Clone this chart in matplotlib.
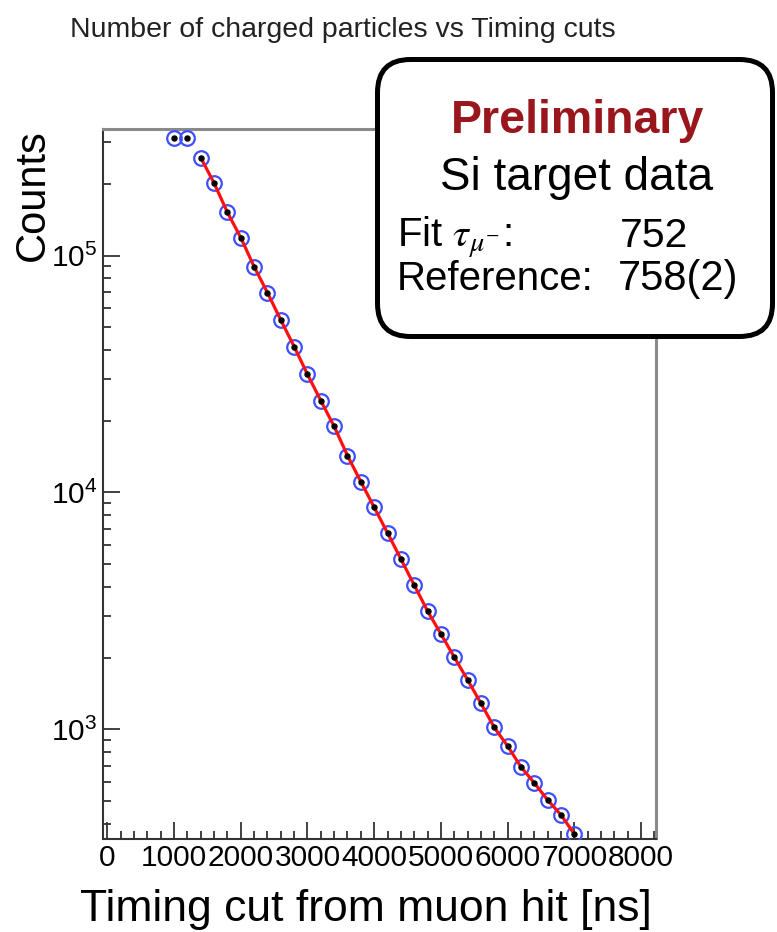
import matplotlib
matplotlib.use("Agg")
import matplotlib.pyplot as plt
from matplotlib.patches import FancyBboxPatch
from matplotlib.ticker import (
    LogFormatterSciNotation,
    LogLocator,
    MultipleLocator,
    NullFormatter,
)

plt.rcParams["font.family"] = ["Liberation Sans", "DejaVu Sans"]
plt.rcParams["mathtext.fontset"] = "custom"
plt.rcParams["mathtext.rm"] = "Liberation Sans"
plt.rcParams["mathtext.it"] = "Liberation Sans:italic"
plt.rcParams["mathtext.bf"] = "Liberation Sans:bold"

# timing cut (ns) and surviving charged-particle counts
timing_cut_ns = [
    1000, 1200, 1400, 1600, 1800, 2000, 2200, 2400, 2600, 2800, 3000,
    3200, 3400, 3600, 3800, 4000, 4200, 4400, 4600, 4800, 5000, 5200,
    5400, 5600, 5800, 6000, 6200, 6400, 6600, 6800, 7000,
]
counts = [
    314000, 314000, 259000, 202000, 152000, 119000, 89700, 69700, 53400,
    41300, 31500, 24400, 19000, 14300, 11100, 8660, 6750, 5240, 4070,
    3160, 2530, 2020, 1620, 1290, 1020, 852, 695, 595, 504, 436, 362,
]
fit_first = 2  # fit range starts at the third cut

title = "Number of charged particles vs Timing cuts"
box_lines = ["Preliminary", "Si target data"]
fit_label, fit_value = r"Fit $\tau_{\mu^{-}}$:", "752"
ref_label, ref_value = "Reference:", "758(2)"

W, H = 777, 932
fig = plt.figure(figsize=(W / 100, H / 100), dpi=100)
ax = fig.add_axes([102.7 / W, 1 - 838.5 / H, (656 - 102.7) / W, (838.5 - 128.5) / H])

ax.plot(timing_cut_ns, counts, "o", ms=10.5, mfc="none", mec="#3f4fff",
        mew=1.6, zorder=3)
ax.plot(timing_cut_ns[fit_first:], counts[fit_first:], "-", color="#ff1010",
        lw=2.3, zorder=4)
ax.plot(timing_cut_ns, counts, "o", ms=3.6, color="black", zorder=5)

ax.set_yscale("log")
ax.set_xlim(-70, 8225)
ax.set_ylim(346.6, 343500)

ax.xaxis.set_major_locator(MultipleLocator(1000))
ax.xaxis.set_minor_locator(MultipleLocator(200))
ax.yaxis.set_major_locator(LogLocator(base=10))
ax.yaxis.set_minor_locator(LogLocator(base=10, subs=range(2, 10)))
ax.yaxis.set_major_formatter(LogFormatterSciNotation())
ax.yaxis.set_minor_formatter(NullFormatter())

ax.tick_params(which="both", direction="in", color="#333333", width=1.3,
               top=False, right=False, labelsize=21.5, pad=4)
ax.tick_params(which="major", length=12.5)
ax.tick_params(which="minor", length=6)

for side in ("left", "bottom"):
    ax.spines[side].set_color("#333333")
    ax.spines[side].set_linewidth(1.5)
for side in ("top", "right"):
    ax.spines[side].set_color("#8a8a8a")
    ax.spines[side].set_linewidth(2.2)

fig.text(342.5 / W, 1 - 37 / H, title, ha="center", va="baseline",
         fontsize=20.5, color="#222222")
fig.text(53 / W, 1 - 129 / H, "Counts", rotation=90, ha="right", va="top",
         fontsize=30)
fig.text(652 / W, 1 - 921 / H, "Timing cut from muon hit [ns]", ha="right",
         va="baseline", fontsize=32)

# rounded "Preliminary" box, drawn in inches so corners stay circular
box = FancyBboxPatch((3.775, (H - 336.5) / 100), 3.95, 2.77,
                     boxstyle="round,pad=0,rounding_size=0.33",
                     transform=fig.dpi_scale_trans, fc="white", ec="black",
                     lw=3.6, zorder=10)
fig.add_artist(box)

fig.text(578 / W, 1 - 133 / H, box_lines[0], ha="center", va="baseline",
         fontsize=33.5, fontweight="bold", color="#98161c", zorder=11)
fig.text(577 / W, 1 - 190 / H, box_lines[1], ha="center", va="baseline",
         fontsize=33, zorder=11)
fig.text(396.7 / W, 1 - 246.7 / H, fit_label, ha="left", va="baseline",
         fontsize=29, math_fontfamily="stix", zorder=11)
fig.text(620 / W, 1 - 246.7 / H, fit_value, ha="left", va="baseline",
         fontsize=29.5, zorder=11)
fig.text(396.7 / W, 1 - 290 / H, ref_label, ha="left", va="baseline",
         fontsize=29, zorder=11)
fig.text(618 / W, 1 - 290 / H, ref_value, ha="left", va="baseline",
         fontsize=30, zorder=11)

fig.savefig("out.png", dpi=100)
